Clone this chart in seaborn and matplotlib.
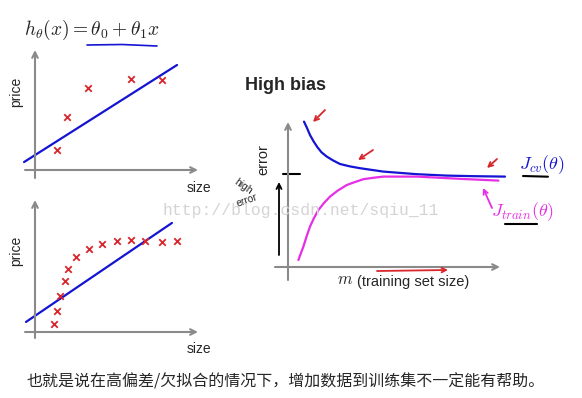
import numpy as np
import pandas as pd
import matplotlib
matplotlib.use('Agg')
import matplotlib.pyplot as plt
import seaborn as sns

# Dati letti dall'immagine
# pannello in alto: pochi punti, retta h(x) = theta0 + theta1 x
size_top = [1.47, 2.13, 3.53, 6.40, 8.47]
price_top = [1.33, 3.53, 5.47, 6.07, 6.00]
fit_top_x = [-0.73, 9.47]
fit_top_y = [0.53, 7.00]

# pannello in basso: molti punti, stessa retta
size_bot = [1.29, 1.49, 1.67, 2.00, 2.22, 2.73, 3.62, 4.47, 5.47, 6.40, 7.35, 8.47, 9.45]
price_bot = [0.55, 1.40, 2.42, 3.42, 4.24, 5.00, 5.57, 5.87, 6.11, 6.13, 6.11, 6.04, 6.11]
fit_bot_x = [-0.60, 9.13]
fit_bot_y = [0.69, 7.29]

# curve di apprendimento (high bias)
m_cv = [0.80, 0.95, 1.10, 1.28, 1.47, 1.68, 1.94, 2.25, 2.60, 3.10, 3.60, 4.77, 6.44, 7.94, 9.35, 10.85]
j_cv = [7.27, 6.95, 6.60, 6.28, 5.99, 5.73, 5.52, 5.33, 5.15, 5.03, 4.94, 4.77, 4.64, 4.57, 4.54, 4.52]
m_train = [0.52, 0.63, 0.77, 0.93, 1.10, 1.30, 1.52, 1.80, 2.10, 2.50, 2.94, 3.35, 3.77, 4.25, 4.77, 6.44, 7.60, 8.77, 10.52]
j_train = [0.35, 0.65, 1.02, 1.53, 2.02, 2.45, 2.85, 3.20, 3.52, 3.83, 4.10, 4.25, 4.39, 4.46, 4.52, 4.52, 4.46, 4.40, 4.32]

sns.set_style('white')
plt.rcParams['font.family'] = ['Liberation Sans', 'Noto Sans CJK SC', 'DejaVu Sans']
plt.rcParams['mathtext.fontset'] = 'cm'

W, H = 582, 398
fig = plt.figure(figsize=(W / 100, H / 100), dpi=100)

RED = '#d8262b'
BLUE = '#1414d2'
MAGENTA = '#e62ee6'
GRAY = '#8a8a8a'


def pannello(left, top, right, bottom, origin, scale):
    ax = fig.add_axes([left / W, 1 - bottom / H, (right - left) / W, (bottom - top) / H])
    ox, oy = origin
    ax.set_xlim((left - ox) / scale, (right - ox) / scale)
    ax.set_ylim((oy - bottom) / scale, (oy - top) / scale)
    ax.set_axis_off()
    return ax


ax_top = pannello(5, 40, 215, 200, (35, 170), 15)
ax_bot = pannello(5, 205, 215, 360, (35, 332.3), 15)
ax_lc = pannello(228, 100, 582, 300, (288, 267), 20)

for ax, sx, py, fx, fy in [(ax_top, size_top, price_top, fit_top_x, fit_top_y),
                           (ax_bot, size_bot, price_bot, fit_bot_x, fit_bot_y)]:
    sns.lineplot(x=fx, y=fy, ax=ax, color=BLUE, lw=1.6, estimator=None, sort=False)
    sns.scatterplot(x=sx, y=py, ax=ax, marker='x', color=RED, s=22, linewidth=1.3, zorder=3)

sns.lineplot(x=m_cv, y=j_cv, ax=ax_lc, color=BLUE, lw=1.6, estimator=None, sort=False)
sns.lineplot(x=m_train, y=j_train, ax=ax_lc, color=MAGENTA, lw=1.6, estimator=None, sort=False)

# livello sovrapposto in pixel per assi, frecce e testi
ov = fig.add_axes([0, 0, 1, 1], zorder=5)
ov.set_xlim(0, W)
ov.set_ylim(H, 0)
ov.set_axis_off()
ov.patch.set_alpha(0)


def freccia(tail, tip, color=GRAY, lw=1.5, ms=10):
    ov.annotate('', xy=tip, xytext=tail,
                arrowprops=dict(arrowstyle='->', color=color, lw=lw,
                                shrinkA=0, shrinkB=0, mutation_scale=ms))


# assi dei pannelli
freccia((35, 178), (35, 50))
freccia((25, 170), (198, 170))
freccia((35, 338), (35, 200))
freccia((25, 332), (198, 332))
freccia((288, 280), (288, 122))
freccia((275, 267), (500, 267))
ov.plot([283, 300], [174, 174], color='black', lw=1.5)

# frecce disegnate a mano
freccia((325, 110), (313, 122), RED, 1.3, 8)
freccia((373, 150), (358, 160), RED, 1.3, 8)
freccia((497, 159), (487, 168), RED, 1.3, 8)
freccia((377, 271), (448, 270), RED, 1.3, 8)
freccia((492, 208), (483, 188), MAGENTA, 1.3, 8)
freccia((279, 255), (279, 182), 'black', 1.3, 9)

# sottolineature
ov.plot([87, 122, 157], [45, 44.5, 46], color=BLUE, lw=1.2)
ov.plot([523, 548], [176, 176.7], color='black', lw=1.5)
ov.plot([505, 537], [224, 224], color='black', lw=1.5)

# testi
ov.text(24, 30, r'$h_\theta(x) = \theta_0 + \theta_1 x$', fontsize=14, va='center', ha='left')
ov.text(16, 92, 'price', rotation=90, fontsize=10, va='center', ha='center')
ov.text(16, 251, 'price', rotation=90, fontsize=10, va='center', ha='center')
ov.text(187, 188, 'size', fontsize=10, va='center', ha='left')
ov.text(187, 349, 'size', fontsize=10, va='center', ha='left')
ov.text(245, 85, 'High bias', fontsize=13, fontweight='bold', va='center', ha='left')
ov.text(263, 160, 'error', rotation=90, fontsize=10.5, va='center', ha='center')
ov.text(337, 280, r'$m$', fontsize=12, va='center', ha='left')
ov.text(357, 282, '(training set size)', fontsize=10.5, va='center', ha='left')
ov.text(519, 165, r'$J_{cv}(\theta)$', fontsize=13, color=BLUE, va='center', ha='left')
ov.text(491, 212, r'$J_{train}(\theta)$', fontsize=13, color=MAGENTA, va='center', ha='left')
ov.text(243, 187, 'high', fontsize=7.5, rotation=-35, va='center', ha='center')
ov.text(247, 200, 'error', fontsize=7.5, rotation=20, va='center', ha='center')
ov.text(162, 210, 'http://blog.csdn.net/sqiu_11', family='Liberation Mono', fontsize=11.8,
        color='#d4d4d4', va='center', ha='left', zorder=10)
ov.text(26, 382, '也就是说在高偏差/欠拟合的情况下，增加数据到训练集不一定能有帮助。',
        family=['Noto Sans CJK SC', 'DejaVu Sans'], fontsize=11.5, va='center', ha='left')

fig.savefig('out.png', dpi=100)
